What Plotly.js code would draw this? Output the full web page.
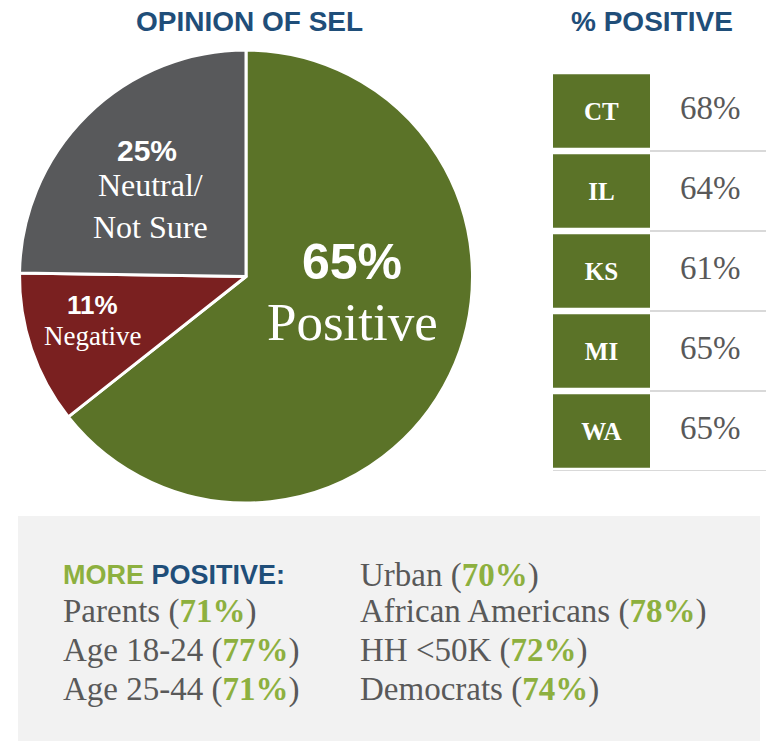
<!DOCTYPE html>
<html><head><meta charset="utf-8">
<script src="https://cdn.plot.ly/plotly-3.0.1.min.js"></script>
<style>html,body{margin:0;padding:0;background:#fff;}</style>
</head><body><div id="chart" style="width:766px;height:741px;"></div>
<script>
// ---- data ----
const sliceLabels = ['Positive', 'Negative', 'Neutral/<br>Not Sure'];
const sliceValues = [65, 11, 25];
const states = ['CT', 'IL', 'KS', 'MI', 'WA'];
const statePositive = [68, 64, 61, 65, 65];
const groupsLeft = ['Parents', 'Age 18-24', 'Age 25-44'];
const groupsLeftPct = [71, 77, 71];
const groupsRight = ['Urban', 'African Americans', 'HH <50K', 'Democrats'];
const groupsRightPct = [70, 78, 72, 74];

// ---- style ----
const W = 766, H = 741;
const X = px => px / W, Y = py => 1 - py / H;
const GREEN = '#5B7328', RED = '#7A2020', GREY = '#58595B';
const BLUE = '#1F4E79', LGREEN = '#8DB03F', TXT = '#595959';
const SERIF = 'Liberation Serif, Times New Roman, serif';
const SANS = 'Liberation Sans, Arial, sans-serif';

const pie = {
  type: 'pie', labels: sliceLabels, values: sliceValues,
  sort: false, direction: 'clockwise', rotation: 0,
  marker: {colors: [GREEN, RED, GREY], line: {color: '#fff', width: 3}},
  textinfo: 'none', hoverinfo: 'skip',
  domain: {x: [X(18), X(474)], y: [Y(503), Y(50)]}
};

const boxes = {
  type: 'bar', orientation: 'h', y: states, x: states.map(() => 1),
  width: 0.92, marker: {color: GREEN},
  texttemplate: '<b>%{y}</b>', textposition: 'inside', insidetextanchor: 'middle',
  textangle: 0, constraintext: 'none',
  textfont: {family: SERIF, size: 25, color: '#fff'},
  hoverinfo: 'skip', xaxis: 'x', yaxis: 'y'
};

const vals = {
  type: 'scatter', mode: 'text', y: states, x: states.map(() => 1.62),
  text: statePositive.map(v => v + '%'), textposition: 'middle center',
  textfont: {family: SERIF, size: 33, color: TXT},
  hoverinfo: 'skip', xaxis: 'x', yaxis: 'y'
};

const shapes = [{
  type: 'rect', xref: 'paper', yref: 'paper', x0: X(18), x1: X(760), y0: 0, y1: Y(516),
  fillcolor: '#F2F2F2', line: {width: 0}, layer: 'below'
}];
states.forEach((s, i) => {
  shapes.push({type: 'line', xref: 'x', yref: 'y', x0: i < states.length - 1 ? 1 : 0, x1: 213 / 97,
    y0: i + 0.5, y1: i + 0.5, line: {color: '#D9D9D9', width: 2}, layer: 'below'});
});

const ann = [];
function A(text, x, y, font, extra) {
  ann.push(Object.assign({text, x: X(x), y: Y(y), xref: 'paper', yref: 'paper',
    showarrow: false, xanchor: 'center', yanchor: 'middle', font}, extra || {}));
}
A('<b>OPINION OF SEL</b>', 249, 22, {family: SANS, size: 28, color: BLUE});
A('<b>% POSITIVE</b>', 652, 22, {family: SANS, size: 28, color: BLUE});

// pie labels
const pctPos = [[352, 262], [92, 305], [147, 150]];
const pctSize = [50, 26, 30];
const namePos = [[352, 322], [92, 336], [150, 206]];
const nameSize = [53, 27, 32];
sliceValues.forEach((v, i) => {
  A('<b>' + v + '%</b>', pctPos[i][0], pctPos[i][1], {family: SANS, size: pctSize[i], color: '#fff'});
  A(sliceLabels[i], namePos[i][0], namePos[i][1], {family: SERIF, size: nameSize[i], color: '#fff'});
});

// bottom panel
A('<span style="color:' + LGREEN + '">MORE</span> POSITIVE:', 61, 575,
  {family: SANS, size: 27, color: BLUE, weight: 700}, {xanchor: 'left'});
const pctSpan = v => '(<span style="color:' + LGREEN + '"><b>' + v + '%</b></span>)';
const rowY = [611, 650, 689];
groupsLeft.forEach((g, i) => A(g + ' ' + pctSpan(groupsLeftPct[i]), 61, rowY[i],
  {family: SERIF, size: 33, color: TXT}, {xanchor: 'left'}));
const rowY2 = [575, 611, 650, 689];
groupsRight.forEach((g, i) => A(g + ' ' + pctSpan(groupsRightPct[i]), 358, rowY2[i],
  {family: SERIF, size: 33, color: TXT}, {xanchor: 'left'}));

const layout = {
  width: W, height: H, margin: {l: 0, r: 0, t: 0, b: 0},
  paper_bgcolor: '#fff', plot_bgcolor: 'rgba(0,0,0,0)', showlegend: false,
  xaxis: {domain: [X(553), 1], range: [0, 213 / 97], visible: false, fixedrange: true},
  yaxis: {domain: [Y(471), Y(71)], type: 'category', range: [4.5, -0.5], visible: false, fixedrange: true},
  shapes, annotations: ann
};
Plotly.newPlot('chart', [pie, boxes, vals], layout, {displayModeBar: false, staticPlot: true});
</script></body></html>
